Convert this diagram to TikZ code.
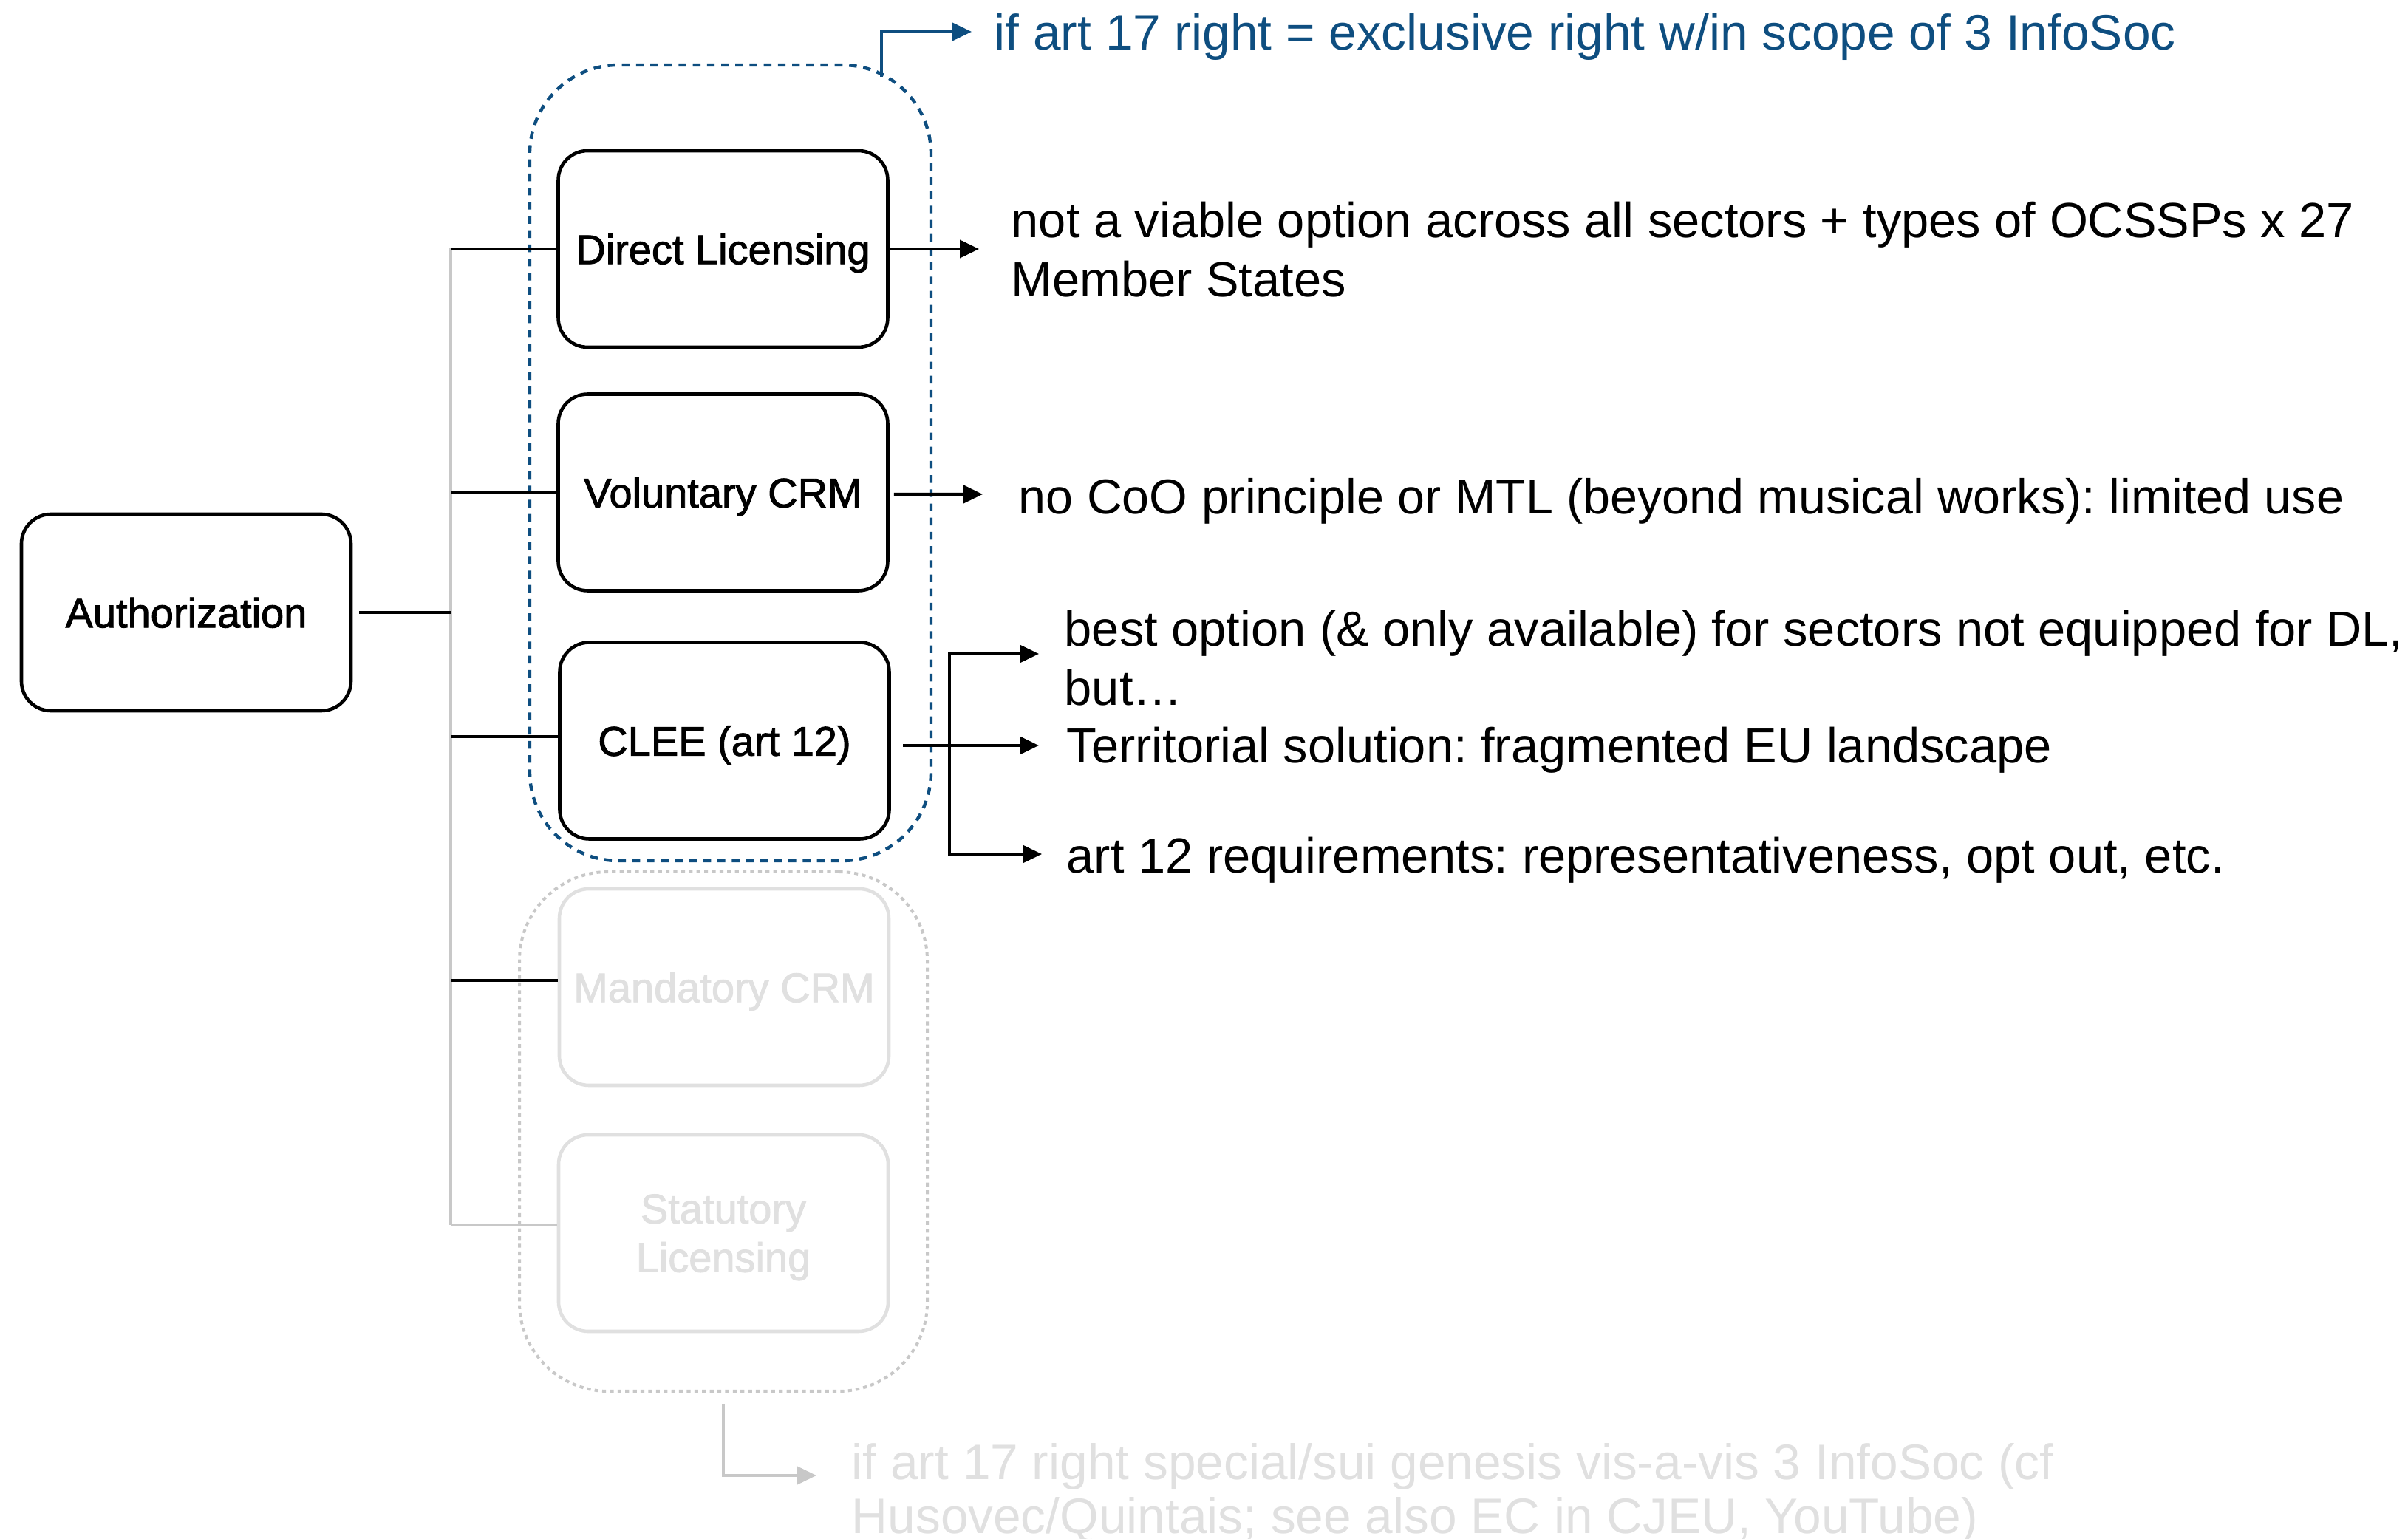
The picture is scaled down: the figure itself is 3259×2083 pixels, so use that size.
\documentclass[tikz,border=0pt]{standalone}
\usepackage{fontspec}
\setmainfont{Liberation Sans}
\newfontfamily\boxfont{Liberation Sans}[FakeBold=1.6]
\usetikzlibrary{arrows.meta}
\definecolor{bblue}{RGB}{14,78,128}
\definecolor{lgrey}{RGB}{200,200,200}
\definecolor{tgrey}{RGB}{224,224,224}
\begin{document}
\frenchspacing
\begin{tikzpicture}[x=0.25pt,y=-0.25pt,
  box/.style={draw=black, fill=white, line width=1.15pt, rounded corners=10pt,
    minimum width=111.5pt, minimum height=66.5pt, inner sep=0pt, align=center, text depth=0pt,
    font=\boxfont\fontsize{14}{16.5}\selectfont},
  gbox/.style={box, draw=tgrey, text=tgrey},
  txt/.style={anchor=base west, inner sep=0pt, font=\fontsize{16.7}{20}\selectfont},
  conn/.style={line width=1pt, draw=black},
  gconn/.style={line width=0.8pt, draw=lgrey},
  arr/.style={conn, -{Triangle[length=6.5pt,width=6pt]}},
  bluecont/.style={draw=bblue, line width=1.1pt, dash pattern=on 2.6pt off 2.2pt, rounded corners=30pt,
    minimum width=135.75pt, minimum height=269.25pt, inner sep=0pt},
  greycont/.style={draw=lgrey, line width=1pt, dash pattern=on 1.3pt off 1.3pt, rounded corners=30pt,
    minimum width=138pt, minimum height=175.75pt, inner sep=0pt},
]
\useasboundingbox (0,0) rectangle (3259,2083);

% containers
\node[bluecont] (bc) at (988.5,626.5) {};
\node[greycont] (gc) at (979,1531.5) {};

% boxes
\node[box] (auth) at (252,829) {Authorization};
\node[box] (dl) at (978.5,337) {Direct Licensing};
\node[box] (vc) at (978.5,666.5) {Voluntary CRM};
\node[box] (cl) at (980.5,1002.5) {CLEE (art 12)};
\node[gbox] (mc) at (980,1336) {Mandatory CRM};
\node[gbox] (sl) at (979,1669) {Statutory\\Licensing};

% trunk
\coordinate (trunktop) at (610,335);
\coordinate (trunkbot) at (610,1658);
\draw[gconn] (trunktop) -- (trunkbot);
\draw[conn] ([xshift=2.25pt]auth.east) -- (auth.east -| trunktop);
\draw[conn] (dl.west -| trunktop) -- (dl.west);
\draw[conn] (vc.west -| trunktop) -- (vc.west);
\draw[conn] ([yshift=1.3pt]cl.west -| trunktop) -- ([yshift=1.3pt]cl.west);
\draw[conn] ([yshift=2.25pt]mc.west -| trunktop) -- ([yshift=2.25pt]mc.west);
\draw[gconn] (trunkbot) -- (trunkbot -| sl.west);

% right texts
\node[txt, text=bblue, font=\fontsize{16.9}{20}\selectfont] (btxt) at (1345,68) {if art 17 right = exclusive right w/in scope of 3 InfoSoc};
\node[txt] (t1) at (1368,322) {\begin{tabular}[t]{@{}l@{}}not a viable option across all sectors + types of OCSSPs x 27\\Member States\end{tabular}};
\node[txt, font=\fontsize{16.6}{20}\selectfont] (t2) at (1378,696) {no CoO principle or MTL (beyond musical works): limited use};
\node[txt] (t3) at (1440,875) {\begin{tabular}[t]{@{}l@{}}best option (\& only available) for sectors not equipped for DL,\\but…\end{tabular}};
\node[txt] (t4) at (1443,1033) {Territorial solution: fragmented EU landscape};
\node[txt] (t5) at (1443,1182) {art 12 requirements: representativeness, opt out, etc.};
\node[txt, text=tgrey, font=\fontsize{16.9}{18.25}\selectfont] (t6) at (1152,2002) {\begin{tabular}[t]{@{}l@{}}if art 17 right special/sui genesis vis-a-vis 3 InfoSoc (cf\\Husovec/Quintais; see also EC in CJEU, YouTube)\end{tabular}};

% arrows
\coordinate (bstart) at (1193,104);
\coordinate (btip) at (1315,43);
\draw[arr, draw=bblue] (bstart) |- (btip);

\coordinate (dltip) at (1325,337);
\draw[arr] (dl.east) -- (dltip);
\coordinate (vctip) at (1330,669);
\draw[arr] ([shift={(1.5pt,-0.6pt)}]vc.east) -- (vctip);

\coordinate (clstart) at (1222,1009);
\coordinate (cltip) at (1406,1009);
\coordinate (brk) at (1285,1009);
\coordinate (tipA) at (1406,885);
\coordinate (tipC) at (1410,1156);
\draw[arr] (clstart) -- (cltip);
\draw[arr] (brk) |- (tipA);
\draw[arr] (brk) |- (tipC);

\coordinate (gstart) at (979,1900);
\coordinate (gtip) at (1105,1997);
\draw[gconn, line width=1pt, -{Triangle[length=6.5pt,width=6pt]}] (gstart) |- (gtip);
\end{tikzpicture}
\end{document}
